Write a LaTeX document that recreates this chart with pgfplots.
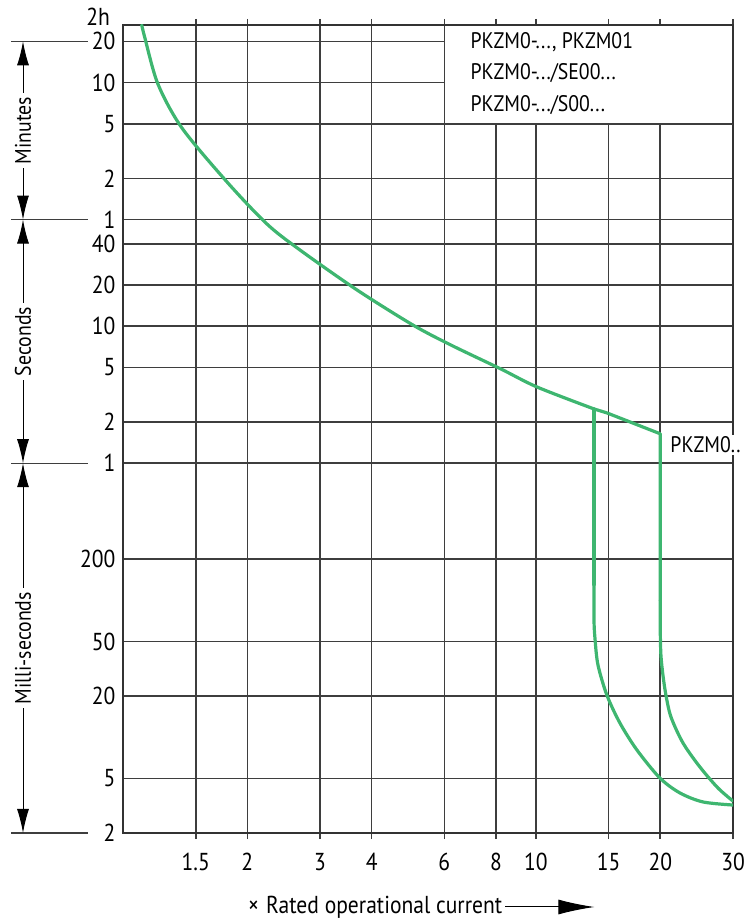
\documentclass[border=0pt]{standalone}
\usepackage{fontspec}
\setmainfont[FakeStretch=0.88]{PT Sans}
\usepackage{pgfplots}
\pgfplotsset{compat=1.18}
\usetikzlibrary{arrows.meta}
\definecolor{curve}{RGB}{62,182,112}
\definecolor{gridc}{RGB}{62,62,62}
\definecolor{framec}{RGB}{50,50,50}
\newcommand{\lblfont}{\fontsize{22.5}{22.5}\selectfont}
\newcommand{\tickfont}{\fontsize{24.5}{24.5}\selectfont}
\begin{document}
\begin{tikzpicture}
\path[use as bounding box] (0,0) rectangle (747pt,921pt);
\begin{axis}[
  at={(123pt,88pt)}, anchor=south west,
  width=610pt, height=808pt, scale only axis,
  xmode=log, ymode=log,
  xmin=1, xmax=30, ymin=0.002, ymax=1580,
  xtick={1.5,2,3,4,6,8,10,15,20,30},
  xticklabels={1.5,2,3,4,6,8,10,15,20,30},
  ytick={0.002,0.005,0.02,0.05,0.2,1,2,5,10,20,40,60,120,300,600,1200},
  yticklabels={2,5,20,50,200,1,2,5,10,20,40,1,2,5,10,20},
  minor xtick={}, minor ytick={},
  grid=major,
  major grid style={gridc, line width=1.6pt},
  axis line style={framec, line width=2.6pt},
  tick label style={font=\tickfont, /pgf/number format/assume math mode=true},
  xtick align=outside,
  major tick length=6pt,
  xtick style={gridc, line width=1.6pt},
  ytick style={draw=none},
  yticklabel style={xshift=-4pt},
  xticklabel style={yshift=-11pt},
]
% white legend box over the grid
\fill[white] (axis cs:6,300) rectangle (axis cs:30,1580);
\draw[gridc, line width=1.6pt] (axis cs:6,1580) -- (axis cs:6,300) -- (axis cs:30,300);
\draw[framec, line width=2.6pt] (axis cs:6,1580) -- (axis cs:30,1580) -- (axis cs:30,300);

% main curve
\addplot[curve, line width=3.2pt, line cap=round, line join=round, smooth] coordinates {
 (1.110,1580) (1.130,1270) (1.215,586) (1.389,280) (1.786,113)
 (2.232,55.7) (2.683,36.0) (3.687,18.4) (5.037,10.2) (6.224,7.29)
 (8.228,4.87) (10.06,3.60) (13.82,2.49)
};
% PKZM0.. branch (20 x)
\addplot[curve, line width=3.2pt, line cap=round, line join=round] coordinates {
 (13.82,2.49) (14.85,2.33) (20,1.64) (20,0.1)
};
\addplot[curve, line width=3.2pt, line cap=round, line join=round, smooth] coordinates {
 (20,0.1) (20,0.0607) (20.07,0.0398) (20.30,0.0284) (20.64,0.0203) (21.23,0.01405)
 (22.70,0.00908) (24.95,0.00606) (27.59,0.00426) (30,0.00342)
};
% branch at ~14 x
\addplot[curve, line width=3.2pt, line cap=round, line join=round] coordinates {
 (13.82,2.49) (13.82,0.13)
};
\addplot[curve, line width=3.2pt, line cap=round, line join=round, smooth] coordinates {
 (13.82,0.13) (13.82,0.0717) (13.90,0.0521) (14.13,0.0337) (14.85,0.0203) (15.97,0.0127)
 (17.56,0.00807) (19.96,0.00504) (22.32,0.00392) (25.38,0.00337) (30,0.00320)
};

\coordinate (m20) at (axis cs:1,1200);
\coordinate (m1) at (axis cs:1,60);
\coordinate (s1) at (axis cs:1,1);
\coordinate (ms2) at (axis cs:1,0.002);
\coordinate (pk) at (axis cs:20,1.36);
\coordinate (boxtl) at (axis cs:6,1580);
\end{axis}

% legend text
\node[anchor=north west, align=left, inner sep=0pt, font=\fontsize{22.5}{31.5}\selectfont]
  at ([xshift=26pt,yshift=-7pt]boxtl) {PKZM0-..., PKZM01\\PKZM0-.../SE00...\\PKZM0-.../S00...};

% right label
\node[anchor=west, fill=white, inner sep=2pt, font=\lblfont] at ([xshift=8pt]pk) {PKZM0..};

% 2h label
\node[anchor=base east, inner sep=0pt, font=\tickfont] at (110pt,895pt) {2h};

% left section markers
\foreach \c in {m20,m1,s1,ms2} \draw[gridc, line width=1.3pt] (11pt,0 |- \c) -- (88pt,0 |- \c);
\tikzset{secarrow/.style={black, line width=1pt, {Latex[length=24pt,width=12pt]}-{Latex[length=24pt,width=12pt]}}}
\draw[secarrow] (23pt,0 |- m20) -- node[midway, rotate=90, fill=white, inner sep=4pt, font=\lblfont] {Minutes} (23pt,0 |- m1);
\draw[secarrow] (23pt,0 |- m1) -- node[midway, rotate=90, fill=white, inner sep=4pt, font=\lblfont] {Seconds} (23pt,0 |- s1);
\draw[secarrow] (23pt,0 |- s1) -- node[midway, rotate=90, fill=white, inner sep=4pt, font=\lblfont] {Milli-seconds} (23pt,0 |- ms2);

% x label with arrow
\node[anchor=west, inner sep=0pt, font=\fontsize{24.5}{24.5}\selectfont] (xl) at (248pt,14pt) {×\hspace{7pt}Rated operational current};
\draw[black, line width=1pt, -{Latex[length=36pt,width=15pt]}] ([xshift=3pt]xl.east) -- ++(89pt,0);
\end{tikzpicture}
\end{document}
